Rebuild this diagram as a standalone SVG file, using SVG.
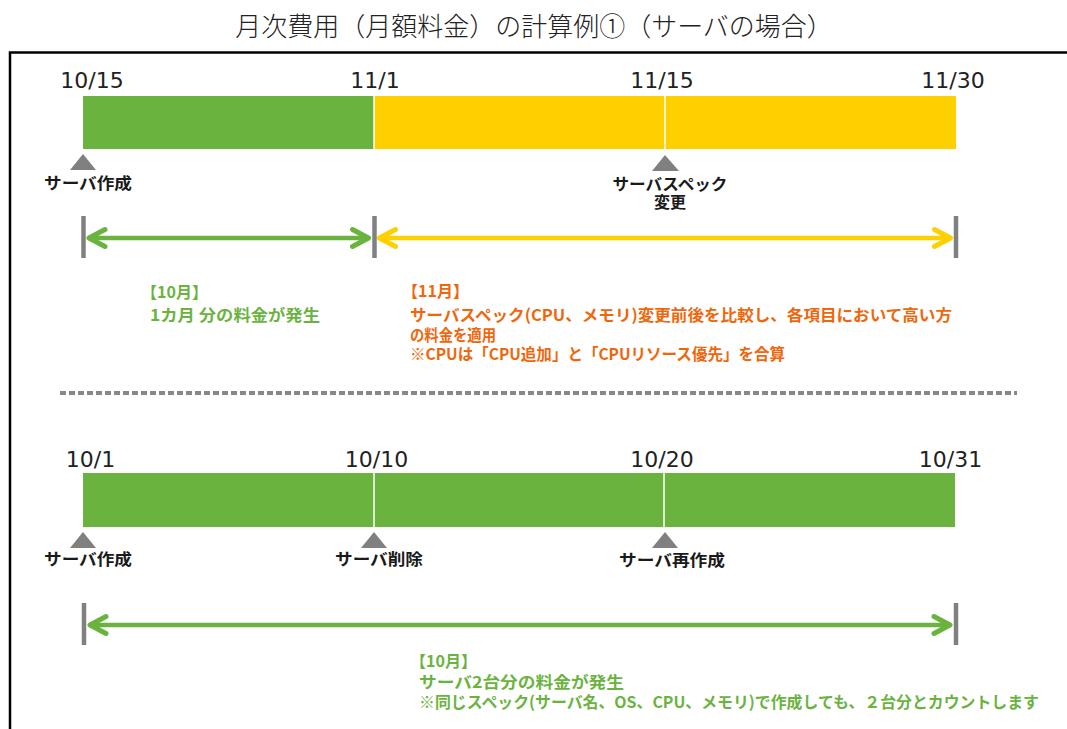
<svg xmlns="http://www.w3.org/2000/svg" width="1067" height="729" viewBox="0 0 1067 729">
<style>
  .title { font-family: "Noto Sans CJK JP", sans-serif; font-size: 26px; font-weight: 300; fill: #222; }
  .date { font-family: "DejaVu Sans", "Liberation Sans", sans-serif; font-size: 22px; fill: #222; text-anchor: middle; }
  .lbl { font-family: "Noto Sans CJK JP", sans-serif; font-size: 16px; font-weight: 700; fill: #1a1a1a; text-anchor: middle; }
  .note { font-family: "Noto Sans CJK JP", sans-serif; font-size: 16px; font-weight: 700; }
  .g { fill: #6BB33F; }
  .o { fill: #F0660A; }
  .barG { fill: #6BB33F; }
  .barY { fill: #FFD000; }
  .sep { stroke: #ffffff; stroke-width: 1.5; }
  .tri { fill: #808080; }
  .tick { stroke: #808080; stroke-width: 4.5; }
  .arrG { stroke: #6BB33F; stroke-width: 4.5; fill: none; }
  .arrY { stroke: #FFD000; stroke-width: 4.5; fill: none; }
</style>
<defs>
  <marker id="chevG" markerUnits="userSpaceOnUse" viewBox="-24 -12 28 24" markerWidth="28" markerHeight="24" refX="0" refY="0" orient="auto-start-reverse">
    <path d="M -17 -8.5 L -1 0 L -17 8.5" fill="none" stroke="#6BB33F" stroke-width="5" stroke-linecap="round" stroke-linejoin="round"/>
  </marker>
  <marker id="chevY" markerUnits="userSpaceOnUse" viewBox="-24 -12 28 24" markerWidth="28" markerHeight="24" refX="0" refY="0" orient="auto-start-reverse">
    <path d="M -17 -8.5 L -1 0 L -17 8.5" fill="none" stroke="#FFD000" stroke-width="5" stroke-linecap="round" stroke-linejoin="round"/>
  </marker>
</defs>
<rect width="1067" height="729" fill="#ffffff"/>

<text id="title" class="title" x="534" y="36" text-anchor="middle">月次費用（月額料金）の計算例①（サーバの場合）</text>

<rect id="frame" x="10" y="52.5" width="1100" height="720" fill="none" stroke="#000" stroke-width="2.5"/>

<!-- Example 1 -->
<g id="dates1">
  <text class="date" x="92" y="88">10/15</text>
  <text class="date" x="375" y="88">11/1</text>
  <text class="date" x="662" y="88">11/15</text>
  <text class="date" x="953" y="88">11/30</text>
</g>
<g id="bar1-oct"><rect class="barG" x="83" y="96" width="291" height="53"/></g>
<g id="bar1-nov">
  <rect class="barY" x="374" y="96" width="582" height="53"/>
  <line class="sep" x1="374" y1="96" x2="374" y2="149"/>
  <line class="sep" x1="665" y1="96" x2="665" y2="149"/>
</g>
<g id="ev1-create">
  <polygon class="tri" points="83,154 70,170 96,170"/>
  <text class="lbl" x="88" y="189" textLength="88" lengthAdjust="spacingAndGlyphs">サーバ作成</text>
</g>
<g id="ev1-change">
  <polygon class="tri" points="665,155 652,171 679,171"/>
  <text class="lbl" x="670" y="190" textLength="115" lengthAdjust="spacingAndGlyphs">サーバスペック</text>
  <text class="lbl" x="670" y="208">変更</text>
</g>
<g id="ticks1">
  <line class="tick" x1="83.5" y1="216" x2="83.5" y2="258"/>
  <line class="tick" x1="374.5" y1="216" x2="374.5" y2="258"/>
  <line class="tick" x1="956" y1="216" x2="956" y2="258"/>
</g>
<g id="note1-oct">
  <text class="note g" x="141" y="298">【10月】</text>
  <text class="note g" x="150" y="321" textLength="170" lengthAdjust="spacingAndGlyphs">1カ月 分の料金が発生</text>
</g>
<g id="note1-nov">
  <text class="note o" x="402" y="297">【11月】</text>
  <text class="note o" x="410" y="321" textLength="542" lengthAdjust="spacingAndGlyphs">サーバスペック(CPU、メモリ)変更前後を比較し、各項目において高い方</text>
  <text class="note o" x="410" y="341" textLength="86" lengthAdjust="spacingAndGlyphs">の料金を適用</text>
  <text class="note o" x="410" y="360" textLength="375" lengthAdjust="spacingAndGlyphs">※CPUは「CPU追加」と「CPUリソース優先」を合算</text>
</g>

<line id="divider" x1="60" y1="393" x2="1017" y2="393" stroke="#888" stroke-width="4" stroke-dasharray="6 3"/>

<!-- Example 2 -->
<g id="dates2">
  <text class="date" x="90.5" y="467">10/1</text>
  <text class="date" x="376.5" y="467">10/10</text>
  <text class="date" x="662" y="467">10/20</text>
  <text class="date" x="950.5" y="467">10/31</text>
</g>
<g id="bar2">
  <rect class="barG" x="83" y="473" width="872" height="54"/>
  <line class="sep" x1="374" y1="473" x2="374" y2="527"/>
  <line class="sep" x1="664" y1="473" x2="664" y2="527"/>
</g>
<g id="ev2-create">
  <polygon class="tri" points="83,532 70,548 96,548"/>
  <text class="lbl" x="88" y="565" textLength="88" lengthAdjust="spacingAndGlyphs">サーバ作成</text>
</g>
<g id="ev2-delete">
  <polygon class="tri" points="374,532 361,548 387,548"/>
  <text class="lbl" x="379" y="565" textLength="88" lengthAdjust="spacingAndGlyphs">サーバ削除</text>
</g>
<g id="ev2-recreate">
  <polygon class="tri" points="665,532 652,548 678,548"/>
  <text class="lbl" x="672" y="566" textLength="106" lengthAdjust="spacingAndGlyphs">サーバ再作成</text>
</g>
<g id="ticks2">
  <line class="tick" x1="84" y1="603" x2="84" y2="645"/>
  <line class="tick" x1="956" y1="603" x2="956" y2="645"/>
</g>
<g id="note2">
  <text class="note g" x="410" y="667">【10月】</text>
  <text class="note g" x="419" y="688" textLength="205" lengthAdjust="spacingAndGlyphs">サーバ2台分の料金が発生</text>
  <text class="note g" x="419" y="708" textLength="620" lengthAdjust="spacingAndGlyphs">※同じスペック(サーバ名、OS、CPU、メモリ)で作成しても、２台分とカウントします</text>
</g>

<g id="connectors">
  <line class="arrG" x1="88" y1="238" x2="369.5" y2="238" marker-start="url(#chevG)" marker-end="url(#chevG)"/>
  <line class="arrY" x1="378.5" y1="238" x2="951.5" y2="238" marker-start="url(#chevY)" marker-end="url(#chevY)"/>
  <line class="arrG" x1="89" y1="625" x2="951" y2="625" marker-start="url(#chevG)" marker-end="url(#chevG)"/>
</g>
</svg>
